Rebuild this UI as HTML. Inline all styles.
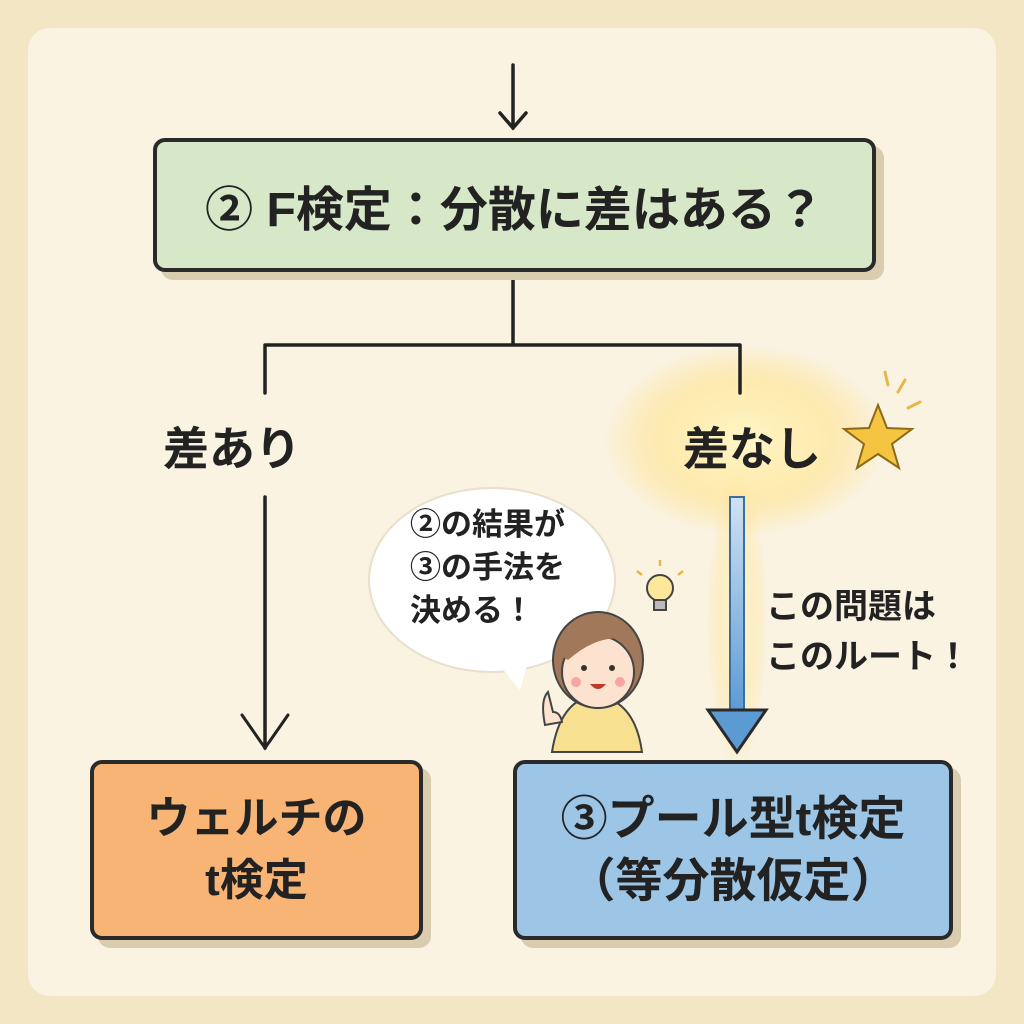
<!DOCTYPE html>
<html><head><meta charset="utf-8"><style>
html,body{margin:0;padding:0}
body{width:1024px;height:1024px;background:#f3e6c4;position:relative;overflow:hidden;font-family:"Liberation Sans","Noto Sans CJK JP",sans-serif;color:#222}
.panel{position:absolute;left:28px;top:28px;width:968px;height:968px;background:#faf3e2;border-radius:22px}
.box{position:absolute;border:4px solid #2a2a2a;border-radius:12px;box-shadow:8px 8px 0 #d9ccaf;display:flex;align-items:center;justify-content:center;text-align:center;font-weight:bold}
.t{position:absolute;white-space:nowrap;font-weight:bold}
</style></head><body>
<div class="panel"></div>
<svg width="1024" height="1024" style="position:absolute;left:0;top:0">
<defs><radialGradient id="g"><stop offset="0" stop-color="#fff6c8" stop-opacity="1"/><stop offset="0.6" stop-color="#ffe79a" stop-opacity="0.7"/><stop offset="1" stop-color="#ffd970" stop-opacity="0"/></radialGradient>
<linearGradient id="bl" x1="0" y1="0" x2="0" y2="1"><stop offset="0" stop-color="#cfe2f2"/><stop offset="1" stop-color="#5c9ad4"/></linearGradient></defs>
<ellipse cx="745" cy="440" rx="140" ry="95" fill="url(#g)"/>
<ellipse cx="737" cy="620" rx="30" ry="150" fill="url(#g)" opacity="0.6"/>
<g stroke="#222" stroke-width="3.5" fill="none" stroke-linecap="round">
<path d="M513 65 V128 M500 113 L513 128 L526 113"/>
<path d="M513 272 V345 M265 345 H740 M265 345 V393 M740 345 V393"/>
<path d="M265 497 V748"/>
<path d="M242 715 L265 748 L288 715" stroke-width="3"/>
</g>
<rect x="730" y="497" width="14" height="215" fill="url(#bl)" stroke="#3b6e9e" stroke-width="2"/>
<path d="M708 710 L766 710 L737 752 Z" fill="#5c9ad4" stroke="#2a2a2a" stroke-width="3"/>
<polygon points="878,405 887,428 912,429 892,444 899,468 878,454 857,468 864,444 844,429 869,428" fill="#f5c542" stroke="#8a6a1a" stroke-width="2"/>
<g stroke="#e6b84a" stroke-width="3" stroke-linecap="round"><path d="M885 372 L888 385 M905 380 L898 392 M920 402 L908 408"/></g>
<ellipse cx="492" cy="580" rx="123" ry="92" fill="#fff" stroke="#e8e0cc" stroke-width="2"/>
<path d="M495 660 L520 690 L530 655 Z" fill="#fff"/>
<circle cx="660" cy="588" r="13" fill="#fde79a" stroke="#444" stroke-width="2"/>
<rect x="654" y="600" width="12" height="10" fill="#bbb" stroke="#444" stroke-width="2"/>
<g stroke="#e6b84a" stroke-width="2.5"><path d="M660 566 V560 M642 575 L637 571 M678 575 L683 571"/></g>
<path d="M552 752 Q560 700 595 695 Q635 700 642 752 Z" fill="#f7e08f" stroke="#444" stroke-width="2"/>
<ellipse cx="598" cy="660" rx="45" ry="48" fill="#a2785a" stroke="#444" stroke-width="2"/>
<ellipse cx="598" cy="672" rx="36" ry="36" fill="#fde3cf" stroke="#444" stroke-width="2"/>
<path d="M560 655 Q580 620 630 640 Q600 632 568 660 Z" fill="#a2785a"/>
<circle cx="584" cy="668" r="3" fill="#333"/><circle cx="612" cy="668" r="3" fill="#333"/>
<path d="M590 684 Q598 694 606 684 Z" fill="#c0392b"/>
<circle cx="576" cy="682" r="5" fill="#f5a5a5"/><circle cx="620" cy="682" r="5" fill="#f5a5a5"/>
<path d="M545 725 Q540 700 548 692 L553 712 Q560 712 562 722 Z" fill="#fde3cf" stroke="#444" stroke-width="2"/>
</svg>
<div class="box" style="left:153px;top:138px;width:715px;height:126px;background:#d6e8c8;font-size:48px">② F検定：分散に差はある？</div>
<div class="t" style="left:163px;top:413px;font-size:46px">差あり</div>
<div class="t" style="left:683px;top:413px;font-size:46px">差なし</div>
<div class="t" style="left:410px;top:503px;font-size:31px;line-height:43px">②の結果が<br>③の手法を<br>決める！</div>
<div class="t" style="left:766px;top:582px;font-size:34px;line-height:50px">この問題は<br>このルート！</div>
<div class="box" style="left:90px;top:760px;width:325px;height:172px;background:#f8b474;font-size:44px;line-height:62px">ウェルチの<br>t検定</div>
<div class="box" style="left:513px;top:760px;width:432px;height:172px;background:#9cc5e6;font-size:47px;line-height:62px">③プール型t検定<br>（等分散仮定）</div>
</body></html>
